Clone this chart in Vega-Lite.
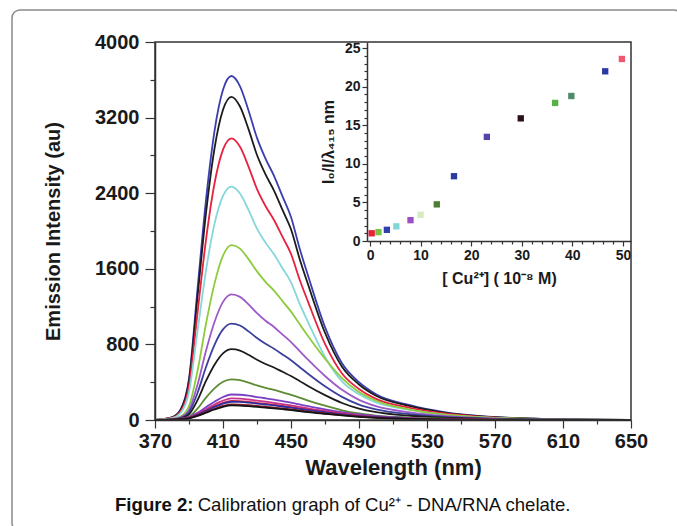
{
"$schema": "https://vega.github.io/schema/vega-lite/v6.json",
"width": 670, "height": 521,
"autosize": {"type": "none"},
"padding": {"left": 12, "top": 10, "right": -5, "bottom": -5},
"background": "white",
"title": {"text": "Figure 2:", "subtitle": "\u200b\u00a0\u00a0\u00a0\u00a0\u00a0\u00a0\u00a0\u00a0\u00a0\u00a0\u00a0\u00a0\u00a0\u00a0\u00a0\u00a0Calibration graph of Cu²⁺ - DNA/RNA chelate.", "orient": "bottom", "anchor": "start", "frame": "group", "offset": -35, "dx": 103, "font": "Liberation Sans", "fontSize": 18.6, "fontWeight": "bold", "color": "#111", "subtitleFont": "Liberation Sans", "subtitleFontSize": 18.6, "subtitleFontWeight": "normal", "subtitleColor": "#111", "subtitlePadding": -18.6},
"config": {
  "view": {"stroke": "#8a8a8a", "strokeWidth": 1.5, "cornerRadius": 8, "fill": "white"},
  "axis": {"labelFont": "Liberation Sans", "titleFont": "Liberation Sans", "labelFontWeight": "bold", "titleFontWeight": "bold", "domainColor": "#333", "tickColor": "#333", "labelColor": "#1a1a1a", "titleColor": "#1a1a1a", "grid": false, "domainWidth": 1.5, "tickWidth": 1.2, "labelOverlap": false, "labelFlush": false}
},
"datasets": {
"spectra": [
{"s":"c1","wl":370,"i":0},{"s":"c1","wl":380,"i":29},{"s":"c1","wl":385,"i":109},{"s":"c1","wl":390,"i":437},{"s":"c1","wl":395,"i":1383},{"s":"c1","wl":400,"i":2330},{"s":"c1","wl":405,"i":3058},{"s":"c1","wl":410,"i":3494},{"s":"c1","wl":415,"i":3640},{"s":"c1","wl":420,"i":3531},{"s":"c1","wl":425,"i":3276},{"s":"c1","wl":430,"i":2985},{"s":"c1","wl":435,"i":2766},{"s":"c1","wl":440,"i":2584},{"s":"c1","wl":445,"i":2366},{"s":"c1","wl":450,"i":2148},{"s":"c1","wl":455,"i":1820},{"s":"c1","wl":460,"i":1529},{"s":"c1","wl":470,"i":983},{"s":"c1","wl":480,"i":601},{"s":"c1","wl":490,"i":400},{"s":"c1","wl":500,"i":273},{"s":"c1","wl":520,"i":157},{"s":"c1","wl":540,"i":84},{"s":"c1","wl":560,"i":44},{"s":"c1","wl":580,"i":22},{"s":"c1","wl":600,"i":11},{"s":"c1","wl":650,"i":0},
{"s":"c2","wl":370,"i":0},{"s":"c2","wl":380,"i":27},{"s":"c2","wl":385,"i":103},{"s":"c2","wl":390,"i":410},{"s":"c2","wl":395,"i":1300},{"s":"c2","wl":400,"i":2189},{"s":"c2","wl":405,"i":2873},{"s":"c2","wl":410,"i":3283},{"s":"c2","wl":415,"i":3420},{"s":"c2","wl":420,"i":3317},{"s":"c2","wl":425,"i":3078},{"s":"c2","wl":430,"i":2804},{"s":"c2","wl":435,"i":2599},{"s":"c2","wl":440,"i":2428},{"s":"c2","wl":445,"i":2223},{"s":"c2","wl":450,"i":2018},{"s":"c2","wl":455,"i":1710},{"s":"c2","wl":460,"i":1436},{"s":"c2","wl":470,"i":923},{"s":"c2","wl":480,"i":564},{"s":"c2","wl":490,"i":376},{"s":"c2","wl":500,"i":257},{"s":"c2","wl":520,"i":147},{"s":"c2","wl":540,"i":79},{"s":"c2","wl":560,"i":41},{"s":"c2","wl":580,"i":21},{"s":"c2","wl":600,"i":10},{"s":"c2","wl":650,"i":0},
{"s":"c3","wl":370,"i":0},{"s":"c3","wl":380,"i":24},{"s":"c3","wl":385,"i":89},{"s":"c3","wl":390,"i":358},{"s":"c3","wl":395,"i":1132},{"s":"c3","wl":400,"i":1907},{"s":"c3","wl":405,"i":2503},{"s":"c3","wl":410,"i":2861},{"s":"c3","wl":415,"i":2980},{"s":"c3","wl":420,"i":2891},{"s":"c3","wl":425,"i":2682},{"s":"c3","wl":430,"i":2444},{"s":"c3","wl":435,"i":2265},{"s":"c3","wl":440,"i":2116},{"s":"c3","wl":445,"i":1937},{"s":"c3","wl":450,"i":1758},{"s":"c3","wl":455,"i":1490},{"s":"c3","wl":460,"i":1252},{"s":"c3","wl":470,"i":805},{"s":"c3","wl":480,"i":492},{"s":"c3","wl":490,"i":328},{"s":"c3","wl":500,"i":224},{"s":"c3","wl":520,"i":128},{"s":"c3","wl":540,"i":69},{"s":"c3","wl":560,"i":36},{"s":"c3","wl":580,"i":18},{"s":"c3","wl":600,"i":9},{"s":"c3","wl":650,"i":0},
{"s":"c4","wl":370,"i":0},{"s":"c4","wl":380,"i":20},{"s":"c4","wl":385,"i":74},{"s":"c4","wl":390,"i":296},{"s":"c4","wl":395,"i":939},{"s":"c4","wl":400,"i":1581},{"s":"c4","wl":405,"i":2075},{"s":"c4","wl":410,"i":2371},{"s":"c4","wl":415,"i":2470},{"s":"c4","wl":420,"i":2396},{"s":"c4","wl":425,"i":2223},{"s":"c4","wl":430,"i":2025},{"s":"c4","wl":435,"i":1877},{"s":"c4","wl":440,"i":1754},{"s":"c4","wl":445,"i":1606},{"s":"c4","wl":450,"i":1457},{"s":"c4","wl":455,"i":1235},{"s":"c4","wl":460,"i":1037},{"s":"c4","wl":470,"i":667},{"s":"c4","wl":480,"i":408},{"s":"c4","wl":490,"i":272},{"s":"c4","wl":500,"i":185},{"s":"c4","wl":520,"i":106},{"s":"c4","wl":540,"i":57},{"s":"c4","wl":560,"i":30},{"s":"c4","wl":580,"i":15},{"s":"c4","wl":600,"i":7},{"s":"c4","wl":650,"i":0},
{"s":"c5","wl":370,"i":0},{"s":"c5","wl":380,"i":11},{"s":"c5","wl":385,"i":37},{"s":"c5","wl":390,"i":148},{"s":"c5","wl":395,"i":518},{"s":"c5","wl":400,"i":1018},{"s":"c5","wl":405,"i":1443},{"s":"c5","wl":410,"i":1739},{"s":"c5","wl":415,"i":1850},{"s":"c5","wl":420,"i":1813},{"s":"c5","wl":425,"i":1702},{"s":"c5","wl":430,"i":1573},{"s":"c5","wl":435,"i":1462},{"s":"c5","wl":440,"i":1369},{"s":"c5","wl":445,"i":1258},{"s":"c5","wl":450,"i":1147},{"s":"c5","wl":455,"i":1018},{"s":"c5","wl":460,"i":888},{"s":"c5","wl":470,"i":648},{"s":"c5","wl":480,"i":444},{"s":"c5","wl":490,"i":296},{"s":"c5","wl":500,"i":204},{"s":"c5","wl":520,"i":111},{"s":"c5","wl":540,"i":59},{"s":"c5","wl":560,"i":31},{"s":"c5","wl":580,"i":17},{"s":"c5","wl":600,"i":9},{"s":"c5","wl":650,"i":2},
{"s":"c6","wl":370,"i":0},{"s":"c6","wl":380,"i":8},{"s":"c6","wl":385,"i":27},{"s":"c6","wl":390,"i":106},{"s":"c6","wl":395,"i":372},{"s":"c6","wl":400,"i":732},{"s":"c6","wl":405,"i":1037},{"s":"c6","wl":410,"i":1250},{"s":"c6","wl":415,"i":1330},{"s":"c6","wl":420,"i":1303},{"s":"c6","wl":425,"i":1224},{"s":"c6","wl":430,"i":1131},{"s":"c6","wl":435,"i":1051},{"s":"c6","wl":440,"i":984},{"s":"c6","wl":445,"i":904},{"s":"c6","wl":450,"i":825},{"s":"c6","wl":455,"i":732},{"s":"c6","wl":460,"i":638},{"s":"c6","wl":470,"i":466},{"s":"c6","wl":480,"i":319},{"s":"c6","wl":490,"i":213},{"s":"c6","wl":500,"i":146},{"s":"c6","wl":520,"i":80},{"s":"c6","wl":540,"i":43},{"s":"c6","wl":560,"i":23},{"s":"c6","wl":580,"i":12},{"s":"c6","wl":600,"i":7},{"s":"c6","wl":650,"i":1},
{"s":"c7","wl":370,"i":0},{"s":"c7","wl":380,"i":6},{"s":"c7","wl":385,"i":20},{"s":"c7","wl":390,"i":82},{"s":"c7","wl":395,"i":286},{"s":"c7","wl":400,"i":561},{"s":"c7","wl":405,"i":796},{"s":"c7","wl":410,"i":959},{"s":"c7","wl":415,"i":1020},{"s":"c7","wl":420,"i":1000},{"s":"c7","wl":425,"i":938},{"s":"c7","wl":430,"i":867},{"s":"c7","wl":435,"i":806},{"s":"c7","wl":440,"i":755},{"s":"c7","wl":445,"i":694},{"s":"c7","wl":450,"i":632},{"s":"c7","wl":455,"i":561},{"s":"c7","wl":460,"i":490},{"s":"c7","wl":470,"i":357},{"s":"c7","wl":480,"i":245},{"s":"c7","wl":490,"i":163},{"s":"c7","wl":500,"i":112},{"s":"c7","wl":520,"i":61},{"s":"c7","wl":540,"i":33},{"s":"c7","wl":560,"i":17},{"s":"c7","wl":580,"i":9},{"s":"c7","wl":600,"i":5},{"s":"c7","wl":650,"i":1},
{"s":"c8","wl":370,"i":0},{"s":"c8","wl":380,"i":5},{"s":"c8","wl":385,"i":15},{"s":"c8","wl":390,"i":60},{"s":"c8","wl":395,"i":210},{"s":"c8","wl":400,"i":413},{"s":"c8","wl":405,"i":585},{"s":"c8","wl":410,"i":705},{"s":"c8","wl":415,"i":750},{"s":"c8","wl":420,"i":735},{"s":"c8","wl":425,"i":690},{"s":"c8","wl":430,"i":638},{"s":"c8","wl":435,"i":593},{"s":"c8","wl":440,"i":555},{"s":"c8","wl":445,"i":510},{"s":"c8","wl":450,"i":465},{"s":"c8","wl":455,"i":413},{"s":"c8","wl":460,"i":360},{"s":"c8","wl":470,"i":263},{"s":"c8","wl":480,"i":180},{"s":"c8","wl":490,"i":120},{"s":"c8","wl":500,"i":83},{"s":"c8","wl":520,"i":45},{"s":"c8","wl":540,"i":24},{"s":"c8","wl":560,"i":13},{"s":"c8","wl":580,"i":7},{"s":"c8","wl":600,"i":4},{"s":"c8","wl":650,"i":1},
{"s":"c9","wl":370,"i":0},{"s":"c9","wl":380,"i":3},{"s":"c9","wl":385,"i":9},{"s":"c9","wl":390,"i":34},{"s":"c9","wl":395,"i":120},{"s":"c9","wl":400,"i":237},{"s":"c9","wl":405,"i":335},{"s":"c9","wl":410,"i":404},{"s":"c9","wl":415,"i":430},{"s":"c9","wl":420,"i":421},{"s":"c9","wl":425,"i":396},{"s":"c9","wl":430,"i":366},{"s":"c9","wl":435,"i":340},{"s":"c9","wl":440,"i":318},{"s":"c9","wl":445,"i":292},{"s":"c9","wl":450,"i":267},{"s":"c9","wl":455,"i":237},{"s":"c9","wl":460,"i":206},{"s":"c9","wl":470,"i":151},{"s":"c9","wl":480,"i":103},{"s":"c9","wl":490,"i":69},{"s":"c9","wl":500,"i":47},{"s":"c9","wl":520,"i":26},{"s":"c9","wl":540,"i":14},{"s":"c9","wl":560,"i":7},{"s":"c9","wl":580,"i":4},{"s":"c9","wl":600,"i":2},{"s":"c9","wl":650,"i":0},
{"s":"c10","wl":370,"i":0},{"s":"c10","wl":380,"i":5},{"s":"c10","wl":385,"i":14},{"s":"c10","wl":390,"i":32},{"s":"c10","wl":395,"i":76},{"s":"c10","wl":400,"i":135},{"s":"c10","wl":405,"i":194},{"s":"c10","wl":410,"i":243},{"s":"c10","wl":415,"i":270},{"s":"c10","wl":420,"i":267},{"s":"c10","wl":425,"i":257},{"s":"c10","wl":430,"i":243},{"s":"c10","wl":435,"i":230},{"s":"c10","wl":440,"i":216},{"s":"c10","wl":445,"i":200},{"s":"c10","wl":450,"i":184},{"s":"c10","wl":455,"i":165},{"s":"c10","wl":460,"i":146},{"s":"c10","wl":470,"i":113},{"s":"c10","wl":480,"i":84},{"s":"c10","wl":490,"i":59},{"s":"c10","wl":500,"i":41},{"s":"c10","wl":520,"i":19},{"s":"c10","wl":540,"i":9},{"s":"c10","wl":560,"i":5},{"s":"c10","wl":580,"i":2},{"s":"c10","wl":600,"i":1},{"s":"c10","wl":650,"i":0},
{"s":"c11","wl":370,"i":0},{"s":"c11","wl":380,"i":5},{"s":"c11","wl":385,"i":11},{"s":"c11","wl":390,"i":27},{"s":"c11","wl":395,"i":64},{"s":"c11","wl":400,"i":114},{"s":"c11","wl":405,"i":164},{"s":"c11","wl":410,"i":205},{"s":"c11","wl":415,"i":228},{"s":"c11","wl":420,"i":226},{"s":"c11","wl":425,"i":217},{"s":"c11","wl":430,"i":205},{"s":"c11","wl":435,"i":194},{"s":"c11","wl":440,"i":182},{"s":"c11","wl":445,"i":169},{"s":"c11","wl":450,"i":155},{"s":"c11","wl":455,"i":139},{"s":"c11","wl":460,"i":123},{"s":"c11","wl":470,"i":96},{"s":"c11","wl":480,"i":71},{"s":"c11","wl":490,"i":50},{"s":"c11","wl":500,"i":34},{"s":"c11","wl":520,"i":16},{"s":"c11","wl":540,"i":8},{"s":"c11","wl":560,"i":4},{"s":"c11","wl":580,"i":2},{"s":"c11","wl":600,"i":1},{"s":"c11","wl":650,"i":0},
{"s":"c12","wl":370,"i":0},{"s":"c12","wl":380,"i":4},{"s":"c12","wl":385,"i":10},{"s":"c12","wl":390,"i":24},{"s":"c12","wl":395,"i":57},{"s":"c12","wl":400,"i":101},{"s":"c12","wl":405,"i":145},{"s":"c12","wl":410,"i":182},{"s":"c12","wl":415,"i":202},{"s":"c12","wl":420,"i":200},{"s":"c12","wl":425,"i":192},{"s":"c12","wl":430,"i":182},{"s":"c12","wl":435,"i":172},{"s":"c12","wl":440,"i":162},{"s":"c12","wl":445,"i":149},{"s":"c12","wl":450,"i":137},{"s":"c12","wl":455,"i":123},{"s":"c12","wl":460,"i":109},{"s":"c12","wl":470,"i":85},{"s":"c12","wl":480,"i":63},{"s":"c12","wl":490,"i":44},{"s":"c12","wl":500,"i":30},{"s":"c12","wl":520,"i":14},{"s":"c12","wl":540,"i":7},{"s":"c12","wl":560,"i":4},{"s":"c12","wl":580,"i":2},{"s":"c12","wl":600,"i":1},{"s":"c12","wl":650,"i":0},
{"s":"c13","wl":370,"i":0},{"s":"c13","wl":380,"i":4},{"s":"c13","wl":385,"i":10},{"s":"c13","wl":390,"i":23},{"s":"c13","wl":395,"i":54},{"s":"c13","wl":400,"i":97},{"s":"c13","wl":405,"i":139},{"s":"c13","wl":410,"i":174},{"s":"c13","wl":415,"i":193},{"s":"c13","wl":420,"i":191},{"s":"c13","wl":425,"i":183},{"s":"c13","wl":430,"i":174},{"s":"c13","wl":435,"i":164},{"s":"c13","wl":440,"i":154},{"s":"c13","wl":445,"i":143},{"s":"c13","wl":450,"i":131},{"s":"c13","wl":455,"i":118},{"s":"c13","wl":460,"i":104},{"s":"c13","wl":470,"i":81},{"s":"c13","wl":480,"i":60},{"s":"c13","wl":490,"i":42},{"s":"c13","wl":500,"i":29},{"s":"c13","wl":520,"i":14},{"s":"c13","wl":540,"i":7},{"s":"c13","wl":560,"i":3},{"s":"c13","wl":580,"i":2},{"s":"c13","wl":600,"i":1},{"s":"c13","wl":650,"i":0},
{"s":"c14","wl":370,"i":0},{"s":"c14","wl":380,"i":3},{"s":"c14","wl":385,"i":8},{"s":"c14","wl":390,"i":20},{"s":"c14","wl":395,"i":46},{"s":"c14","wl":400,"i":83},{"s":"c14","wl":405,"i":119},{"s":"c14","wl":410,"i":149},{"s":"c14","wl":415,"i":165},{"s":"c14","wl":420,"i":163},{"s":"c14","wl":425,"i":157},{"s":"c14","wl":430,"i":149},{"s":"c14","wl":435,"i":140},{"s":"c14","wl":440,"i":132},{"s":"c14","wl":445,"i":122},{"s":"c14","wl":450,"i":112},{"s":"c14","wl":455,"i":101},{"s":"c14","wl":460,"i":89},{"s":"c14","wl":470,"i":69},{"s":"c14","wl":480,"i":51},{"s":"c14","wl":490,"i":36},{"s":"c14","wl":500,"i":25},{"s":"c14","wl":520,"i":12},{"s":"c14","wl":540,"i":6},{"s":"c14","wl":560,"i":3},{"s":"c14","wl":580,"i":1},{"s":"c14","wl":600,"i":1},{"s":"c14","wl":650,"i":0},
{"s":"c15","wl":370,"i":0},{"s":"c15","wl":380,"i":3},{"s":"c15","wl":385,"i":8},{"s":"c15","wl":390,"i":18},{"s":"c15","wl":395,"i":43},{"s":"c15","wl":400,"i":77},{"s":"c15","wl":405,"i":111},{"s":"c15","wl":410,"i":139},{"s":"c15","wl":415,"i":154},{"s":"c15","wl":420,"i":152},{"s":"c15","wl":425,"i":146},{"s":"c15","wl":430,"i":139},{"s":"c15","wl":435,"i":131},{"s":"c15","wl":440,"i":123},{"s":"c15","wl":445,"i":114},{"s":"c15","wl":450,"i":105},{"s":"c15","wl":455,"i":94},{"s":"c15","wl":460,"i":83},{"s":"c15","wl":470,"i":65},{"s":"c15","wl":480,"i":48},{"s":"c15","wl":490,"i":34},{"s":"c15","wl":500,"i":23},{"s":"c15","wl":520,"i":11},{"s":"c15","wl":540,"i":5},{"s":"c15","wl":560,"i":3},{"s":"c15","wl":580,"i":1},{"s":"c15","wl":600,"i":1},{"s":"c15","wl":650,"i":0}
],
"ratio": [
{"k":"p1","cu":0.33,"r":1.0},{"k":"p2","cu":1.67,"r":1.15},{"k":"p3","cu":3.33,"r":1.45},{"k":"p4","cu":5.2,"r":1.9},{"k":"p5","cu":8,"r":2.7},{"k":"p6","cu":10,"r":3.4},{"k":"p7","cu":13.2,"r":4.75},{"k":"p8","cu":16.6,"r":8.4},{"k":"p9","cu":23.1,"r":13.5},{"k":"p10","cu":29.8,"r":15.9},{"k":"p11","cu":36.6,"r":17.9},{"k":"p12","cu":39.8,"r":18.8},{"k":"p13","cu":46.5,"r":22.0},{"k":"p14","cu":49.8,"r":23.6}
]
},
"layer": [
 {"layer": [
  {"data": {"name": "spectra"},
   "mark": {"type": "line", "interpolate": "monotone", "strokeWidth": 1.8},
   "encoding": {
     "x": {"field": "wl", "type": "quantitative", "scale": {"domain": [370, 650], "range": [143, 619], "nice": false, "zero": false},
       "axis": {"orient": "bottom", "offset": -111, "values": [370,380,390,400,410,420,430,440,450,460,470,480,490,500,510,520,530,540,550,560,570,580,590,600,610,620,630,640,650], "format": "d", "labelExpr": "(datum.value-370)%40===0 ? datum.label : ''", "tickSize": {"condition": {"test": "(datum.value-370)%40===0", "value": 8}, "value": 4}, "labelFontSize": 20, "labelPadding": 3, "title": "Wavelength (nm)", "titleFontSize": 22, "titlePadding": 6}},
     "y": {"field": "i", "type": "quantitative", "scale": {"domain": [0, 4000], "range": [410, 32], "nice": false},
       "axis": {"orient": "left", "offset": -143, "values": [0,200,400,600,800,1000,1200,1400,1600,1800,2000,2200,2400,2600,2800,3000,3200,3400,3600,3800,4000], "format": "d", "labelExpr": "datum.value%800===0 ? datum.label : ''", "tickSize": {"condition": {"test": "datum.value%800===0", "value": 10}, "value": 5}, "labelFontSize": 20, "labelPadding": 6, "title": "Emission Intensity (au)", "titleFontSize": 20, "titlePadding": 31}},
     "color": {"field": "s", "type": "nominal", "legend": null,
       "scale": {"domain": ["c1","c2","c3","c4","c5","c6","c7","c8","c9","c10","c11","c12","c13","c14","c15"],
                 "range": ["#3b3fae","#1c1c1c","#e8213f","#86d7d9","#8dcb3c","#9d5ac8","#3c3f9c","#1c1c1c","#5e8c32","#7a40c2","#c8338e","#e2263c","#2a30a2","#8c1c2c","#141414"]}}
   }},
  {"data": {"values": [{}]},
   "mark": {"type": "rect", "fill": "transparent", "stroke": "#333", "strokeWidth": 1.5},
   "encoding": {"x": {"datum": 370}, "x2": {"datum": 650}, "y": {"datum": 0}, "y2": {"datum": 4000}}}
 ]},
 {"layer": [
  {"data": {"name": "ratio"},
   "mark": {"type": "point", "shape": "square", "filled": true, "size": 40, "opacity": 1},
   "encoding": {
     "x": {"field": "cu", "type": "quantitative", "scale": {"domain": [-0.6, 51.6], "range": [355, 619], "nice": false, "zero": false},
       "axis": {"orient": "bottom", "offset": -290, "values": [0,2,4,6,8,10,12,14,16,18,20,22,24,26,28,30,32,34,36,38,40,42,44,46,48,50], "labelExpr": "datum.value%10===0 ? datum.label : ''", "tickSize": {"condition": {"test": "datum.value%10===0", "value": 5}, "value": 3}, "labelFontSize": 14, "labelPadding": 2, "title": "[ Cu²⁺] ( 10⁻⁸ M)", "titleFontSize": 16, "titlePadding": 8}},
     "y": {"field": "r", "type": "quantitative", "scale": {"domain": [0, 25.8], "range": [231, 32], "nice": false},
       "axis": {"orient": "left", "offset": -355, "values": [0,1,2,3,4,5,6,7,8,9,10,11,12,13,14,15,16,17,18,19,20,21,22,23,24,25], "labelExpr": "datum.value%5===0 ? datum.label : ''", "tickSize": {"condition": {"test": "datum.value%5===0", "value": 5}, "value": 3}, "labelFontSize": 14, "labelPadding": 2, "title": "I₀/I/λ₄₁₅ nm", "titleFontSize": 16, "titlePadding": 8}},
     "color": {"field": "k", "type": "nominal", "legend": null,
       "scale": {"domain": ["p1","p2","p3","p4","p5","p6","p7","p8","p9","p10","p11","p12","p13","p14"],
                 "range": ["#e8203a","#79c043","#2f3fb0","#80d6d6","#9b4fc2","#d4ecc0","#4d7d33","#2a3aa2","#5544aa","#2a1018","#55b245","#4e8c68","#2a3aa2","#f2566e"]}}
   }}
 ]}
],
"resolve": {"scale": {"x": "independent", "y": "independent", "color": "independent"}}
}
